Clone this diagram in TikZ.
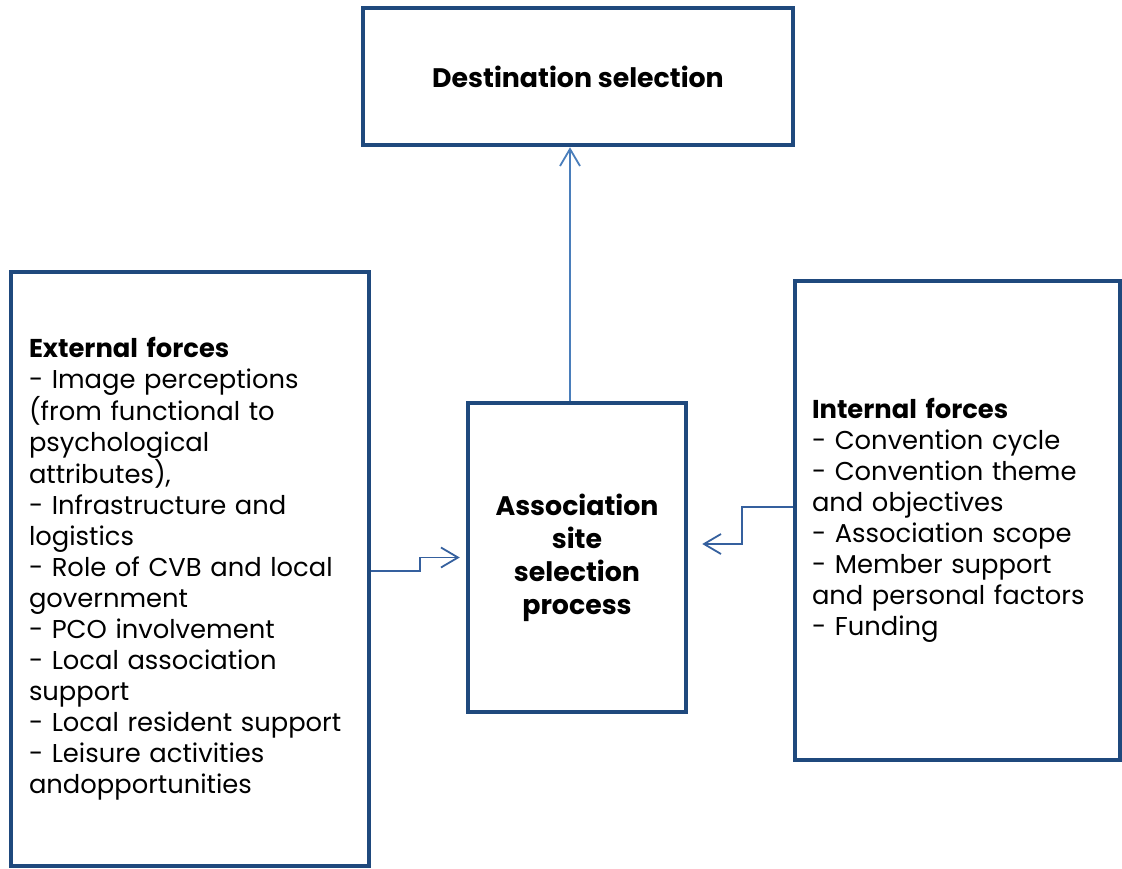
\documentclass[tikz,border=0pt]{standalone}
\usepackage{fontspec}
\setmainfont{Poppins}
\usetikzlibrary{arrows.meta}
\definecolor{boxblue}{HTML}{1F497D}
\definecolor{linkblue}{HTML}{4A7EBB}
\definecolor{elbowblue}{HTML}{35609E}
\tikzset{
  panel/.style={draw=boxblue, line width=4.5pt, fill=white, inner xsep=17pt, inner ysep=0pt},
  bodytext/.style={font=\fontsize{25.8}{31}\selectfont},
  conn/.style={line width=1.8pt, -{Straight Barb[length=17pt,width=20pt,line width=1.8pt]}},
}
\begin{document}
\begin{tikzpicture}[x=1pt,y=-1pt]
\useasboundingbox (0,0) rectangle (1122,868);

% top: outcome box
\node[panel, minimum width=430pt, minimum height=137pt,
      font=\fontsize{26.8}{31}\selectfont\bfseries] (dest) at (578,76.5) {Destination selection};

% left: external forces
\node[panel, minimum width=358pt, minimum height=594pt, text width=322pt, align=left, bodytext] (ext) at (190,569)
{\textbf{External forces}\\
- Image perceptions\\
(from functional to\\
psychological\\
attributes),\\
- Infrastructure and\\
logistics\\
- Role of CVB and local\\
government\\
- PCO involvement\\
- Local association\\
support\\
- Local resident support\\
- Leisure activities\\
andopportunities};

% centre: the process
\node[panel, minimum width=218pt, minimum height=309pt, align=center,
      font=\fontsize{26.8}{33}\selectfont\bfseries] (proc) at (577,557.5)
{Association\\site\\selection\\process};

% right: internal forces
\node[panel, minimum width=325pt, minimum height=479pt, text width=291pt, align=left, bodytext] (int) at (957.5,520.5)
{\textbf{Internal forces}\\
- Convention cycle\\
- Convention theme\\
and objectives\\
- Association scope\\
- Member support\\
and personal factors\\
- Funding};

% connectors
\draw[conn, draw=linkblue] ([xshift=-7pt]proc.north) -- ([xshift=-7pt]proc.north |- dest.south);
\draw[conn, draw=elbowblue] ([yshift=-2pt]ext.east) -- ++(49,0) |- ([xshift=-6pt]proc.west);
\draw[conn, draw=elbowblue] ([yshift=13.5pt]int.west) -- ++(-51,0) |- ([xshift=14pt,yshift=13.5pt]proc.east);
\end{tikzpicture}
\end{document}
